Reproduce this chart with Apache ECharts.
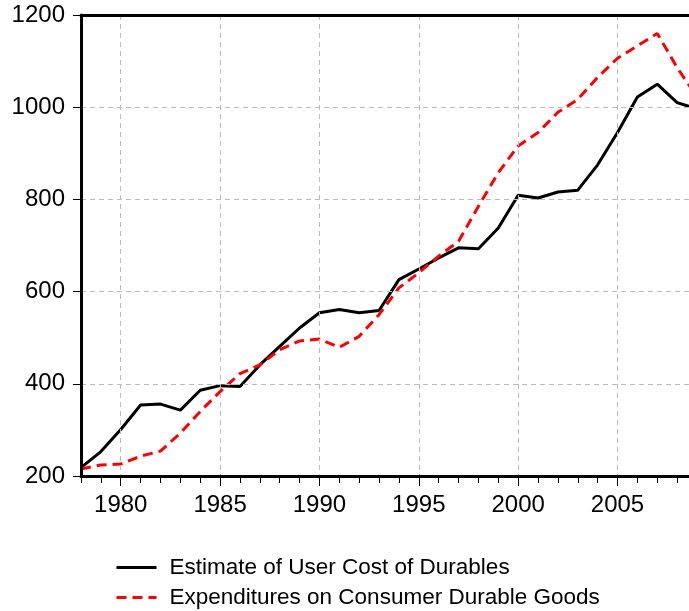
<!DOCTYPE html>
<html>
<head>
<meta charset="utf-8">
<script src="https://cdn.jsdelivr.net/npm/echarts@6/dist/echarts.min.js"></script>
<style>html,body{margin:0;padding:0;background:#fff}#c{width:689px;height:611px}</style>
</head>
<body>
<div id="c"></div>
<script>
const years = [1978,1979,1980,1981,1982,1983,1984,1985,1986,1987,1988,1989,1990,1991,1992,1993,1994,1995,1996,1997,1998,1999,2000,2001,2002,2003,2004,2005,2006,2007,2008,2009];
const userCost = [218,253,301,354,356,343,386,396,394,441,481,521,554,561,554,559,626,649,673,695,693,738,809,803,816,820,875,945,1022,1050,1010,996];
const expenditures = [215,224,226,243,254,293,340,383,422,441,474,493,497,479,503,550,608,641,677,709,785,858,916,945,989,1017,1065,1106,1133,1160,1086,1022];
const yTicks = [200,400,600,800,1000,1200];
const seriesNames = ['Estimate of User Cost of Durables','Expenditures on Consumer Durable Goods'];

const cats = years.map(String);
const isMajor = (i) => years[i] % 5 === 0;
const font = 'Liberation Sans, Arial, Helvetica, sans-serif';

const chart = echarts.init(document.getElementById('c'), null, {renderer: 'canvas'});
chart.setOption({
  animation: false,
  backgroundColor: '#fff',
  grid: {left: 81, top: 15, width: 616, height: 461, containLabel: false, outerBoundsMode: 'none', show: false},
  legend: {
    orient: 'vertical', left: 115, top: 556, padding: 0,
    itemWidth: 40, itemHeight: 22, itemGap: 7,
    itemStyle: {opacity: 0},
    lineStyle: {width: 3},
    textStyle: {fontSize: 22.5, color: '#000', fontFamily: font, padding: [0,0,0,8]},
    data: seriesNames
  },
  xAxis: [{
    type: 'category', data: cats, boundaryGap: false, position: 'bottom', z: 5,
    axisLine: {lineStyle: {color: '#000', width: 3}},
    axisTick: {show: true, inside: false, length: 7, interval: 0, lineStyle: {color: '#000', width: 1}},
    axisLabel: {interval: (i) => isMajor(i), fontSize: 24, color: '#000', fontFamily: font, margin: 17},
    splitLine: {show: true, interval: (i) => isMajor(i), lineStyle: {color: '#bbb', type: [5,4], width: 1}}
  },{
    type: 'category', data: cats, boundaryGap: false, position: 'bottom', z: 5,
    axisLine: {show: false},
    axisTick: {show: true, inside: false, length: 10, interval: (i) => isMajor(i), lineStyle: {color: '#000', width: 1}},
    axisLabel: {show: false},
    splitLine: {show: false}
  },{
    type: 'category', data: cats, boundaryGap: false, position: 'top', z: 5,
    axisLine: {show: true, lineStyle: {color: '#000', width: 3}},
    axisTick: {show: false},
    axisLabel: {show: false},
    splitLine: {show: false}
  }],
  yAxis: {
    type: 'value', min: yTicks[0], max: yTicks[yTicks.length-1], interval: 200, z: 5,
    axisLine: {show: true, lineStyle: {color: '#000', width: 3}},
    axisTick: {show: true, inside: false, length: 8, lineStyle: {color: '#000', width: 1}},
    axisLabel: {fontSize: 24, color: '#000', fontFamily: font, margin: 16, formatter: (v) => String(v)},
    splitLine: {show: true, lineStyle: {color: '#bbb', type: [5,4], width: 1}}
  },
  series: [{
    name: seriesNames[0], type: 'line', data: userCost, showSymbol: false, symbol: 'none',
    lineStyle: {color: '#000', width: 3}, itemStyle: {color: '#000'}, z: 3
  },{
    name: seriesNames[1], type: 'line', data: expenditures, showSymbol: false, symbol: 'none',
    lineStyle: {color: '#ff0000', width: 3, type: [10,6]}, itemStyle: {color: '#ff0000'}, z: 4
  }]
});
</script>
</body>
</html>
